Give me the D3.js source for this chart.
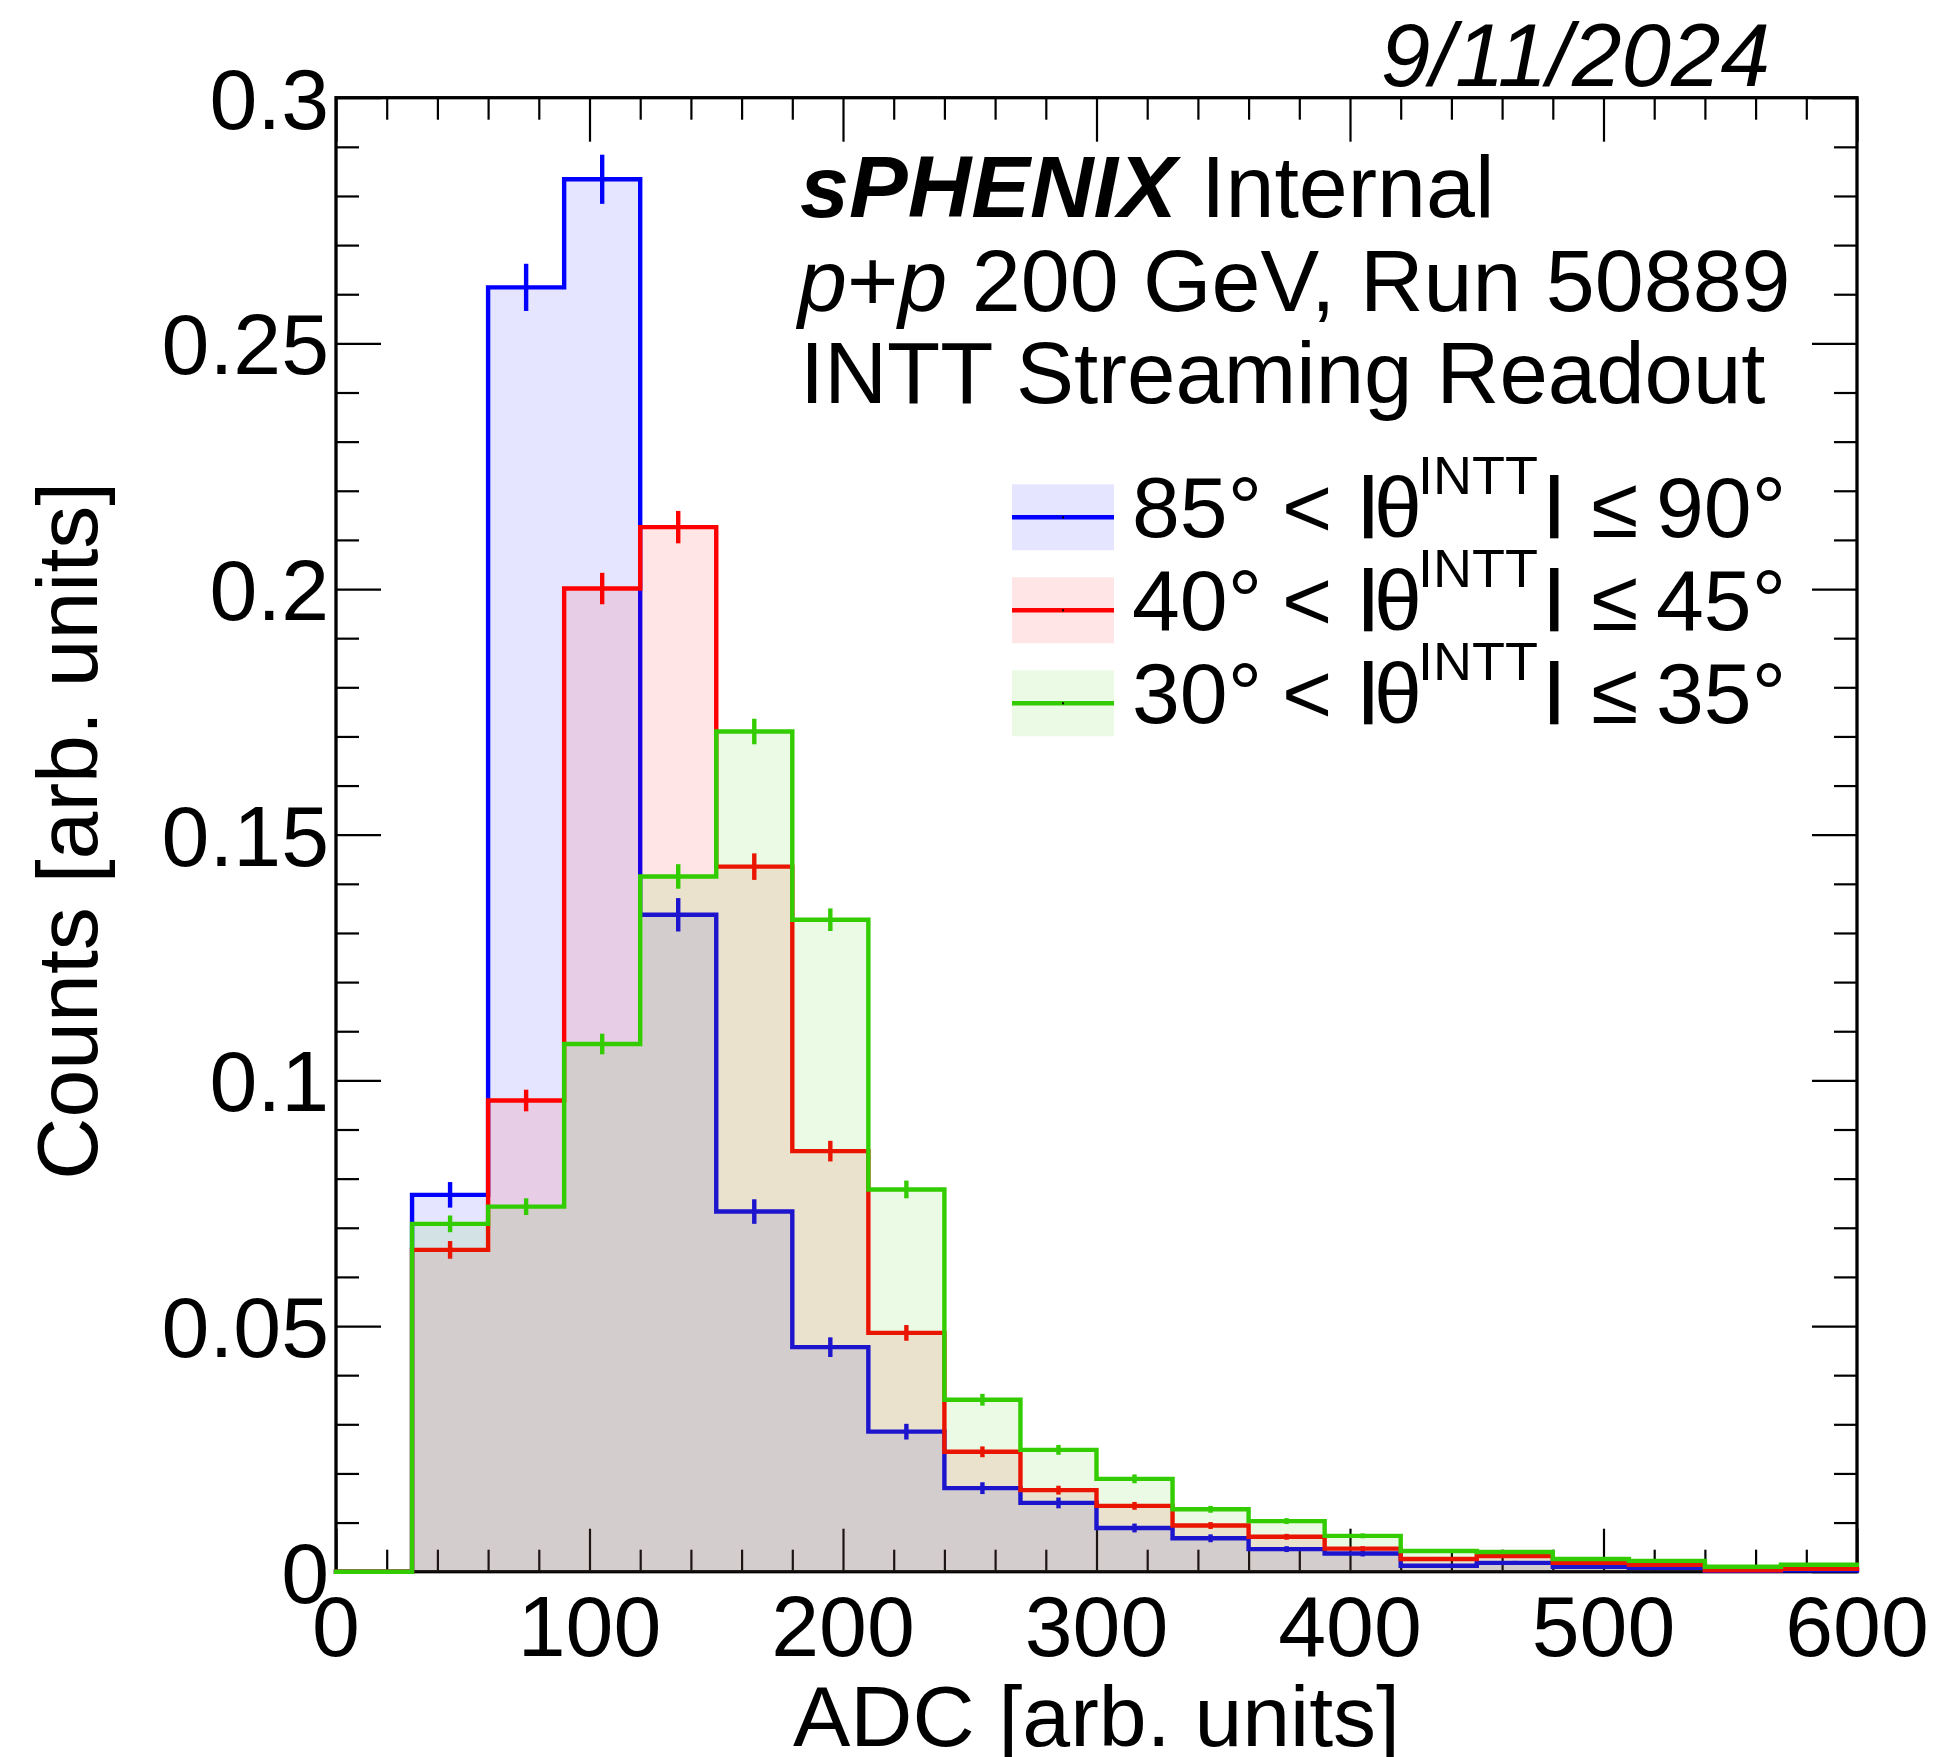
<!DOCTYPE html>
<html>
<head>
<meta charset="utf-8">
<script src="https://cdn.jsdelivr.net/npm/d3@7"></script>
<style>
  html, body { margin: 0; padding: 0; background: #ffffff; }
  svg { display: block; }
  text { font-family: "Liberation Sans", Arial, Helvetica, sans-serif; fill: #000; }
</style>
</head>
<body>
<div id="chart"></div>
<script>
// ---------------- data ----------------
const binEdges = [0, 30, 60, 90, 120, 150, 180, 210, 240, 270, 300, 330, 360, 390, 420, 450, 480, 510, 540, 570, 600];

const blueValues = [0, 0.0767, 0.2614, 0.2834, 0.1337, 0.0733, 0.0457, 0.0285, 0.0170, 0.0140, 0.0089, 0.0068, 0.0046, 0.0037, 0.0012, 0.0018, 0.0010, 0.0008, 0.0002, 0.0003];
const blueErrors = [0, 0.0026, 0.0048, 0.0050, 0.0034, 0.0025, 0.0020, 0.0016, 0.0012, 0.0011, 0.0009, 0.0008, 0.0006, 0.0006, 0.0003, 0.0004, 0.0003, 0.0003, 0.0001, 0.0002];

const redValues = [0, 0.0655, 0.0959, 0.2001, 0.2126, 0.1435, 0.0856, 0.0486, 0.0244, 0.0166, 0.0134, 0.0094, 0.0071, 0.0047, 0.0026, 0.0032, 0.0018, 0.0014, 0.0003, 0.0006];
const redErrors = [0, 0.0018, 0.0022, 0.0032, 0.0033, 0.0027, 0.0021, 0.0016, 0.0011, 0.0009, 0.0008, 0.0007, 0.0006, 0.0005, 0.0004, 0.0004, 0.0003, 0.0003, 0.0001, 0.0002];

const greenValues = [0, 0.0708, 0.0743, 0.1074, 0.1415, 0.1710, 0.1327, 0.0778, 0.0350, 0.0248, 0.0189, 0.0127, 0.0103, 0.0073, 0.0042, 0.0040, 0.0026, 0.0022, 0.0010, 0.0014];
const greenErrors = [0, 0.0017, 0.0017, 0.0021, 0.0025, 0.0026, 0.0023, 0.0018, 0.0012, 0.0010, 0.0009, 0.0007, 0.0006, 0.0005, 0.0004, 0.0004, 0.0003, 0.0003, 0.0002, 0.0002];

const seriesNames = ["85-90", "40-45", "30-35"];
const legendLow = ["85°", "40°", "30°"];
const legendHigh = ["90°", "45°", "35°"];

const xTickValues = [0, 100, 200, 300, 400, 500, 600];
const xTickLabels = ["0", "100", "200", "300", "400", "500", "600"];
const yTickValues = [0, 0.05, 0.1, 0.15, 0.2, 0.25, 0.3];
const yTickLabels = ["0", "0.05", "0.1", "0.15", "0.2", "0.25", "0.3"];
const xMinorStep = 20;
const yMinorStep = 0.01;

const xTitle = "ADC [arb. units]";
const yTitle = "Counts [arb. units]";
const dateText = "9/11/2024";
const headerLines = ["Internal", "200 GeV, Run 50889", "INTT Streaming Readout"];

// ---------------- layout ----------------
const W = 1937, H = 1757;
const L = 336, R = 1857, T = 97.7, B = 1571.7;
const colors = ["#0000ff", "#ff0000", "#33cc00"];
const FS = 86;
const HFS = 88;
const LW = 4.4;

const svg = d3.select("#chart").append("svg").attr("width", W).attr("height", H);
svg.append("rect").attr("width", W).attr("height", H).attr("fill", "#fff");

const x = d3.scaleLinear().domain([0, 600]).range([L, R]);
const y = d3.scaleLinear().domain([0, 0.3]).range([B, T]);

const xMinor = d3.range(0, 600 + 1e-9, xMinorStep).filter(v => xTickValues.indexOf(v) < 0);
const yMinor = d3.range(0, 0.3 + 1e-9, yMinorStep).map(v => +v.toFixed(4)).filter(v => !yTickValues.some(t => Math.abs(t - v) < 1e-6));

const axes = svg.append("g");
function styleAxis(g) {
  g.select(".domain").remove();
  g.selectAll(".tick line").attr("stroke", "#000").attr("stroke-width", 2.2);
  g.selectAll(".tick text").remove();
}
axes.append("g").attr("transform", `translate(0,${B})`).call(d3.axisBottom(x).tickValues(xTickValues).tickSize(-43).tickFormat("")).call(styleAxis);
axes.append("g").attr("transform", `translate(0,${B})`).call(d3.axisBottom(x).tickValues(xMinor).tickSize(-22).tickFormat("")).call(styleAxis);
axes.append("g").attr("transform", `translate(0,${T})`).call(d3.axisTop(x).tickValues(xTickValues).tickSize(-44).tickFormat("")).call(styleAxis);
axes.append("g").attr("transform", `translate(0,${T})`).call(d3.axisTop(x).tickValues(xMinor).tickSize(-22).tickFormat("")).call(styleAxis);
axes.append("g").attr("transform", `translate(${L},0)`).call(d3.axisLeft(y).tickValues(yTickValues).tickSize(-45).tickFormat("")).call(styleAxis);
axes.append("g").attr("transform", `translate(${L},0)`).call(d3.axisLeft(y).tickValues(yMinor).tickSize(-23).tickFormat("")).call(styleAxis);
axes.append("g").attr("transform", `translate(${R},0)`).call(d3.axisRight(y).tickValues(yTickValues).tickSize(-45).tickFormat("")).call(styleAxis);
axes.append("g").attr("transform", `translate(${R},0)`).call(d3.axisRight(y).tickValues(yMinor).tickSize(-23).tickFormat("")).call(styleAxis);

axes.append("rect").attr("x", L).attr("y", T).attr("width", R - L).attr("height", B - T)
  .attr("fill", "none").attr("stroke", "#000").attr("stroke-width", 3.3);

// tick labels
svg.append("g").selectAll("text").data(xTickValues).join("text")
  .attr("x", d => x(d)).attr("y", B + 84.5)
  .attr("text-anchor", "middle").attr("font-size", FS)
  .text((d, i) => xTickLabels[i]);
svg.append("g").selectAll("text").data(yTickValues).join("text")
  .attr("x", L - 7).attr("y", d => y(d) + 31)
  .attr("text-anchor", "end").attr("font-size", FS)
  .text((d, i) => yTickLabels[i]);

// axis titles
svg.append("text").attr("x", (L + R) / 2).attr("y", 1746).attr("text-anchor", "middle")
  .attr("font-size", FS).text(xTitle);
svg.append("text").attr("transform", `translate(97,${(T + B) / 2 - 4}) rotate(-90)`)
  .attr("text-anchor", "middle").attr("font-size", FS).text(yTitle);

// ---------------- histograms ----------------
const allValues = [blueValues, redValues, greenValues];
const allErrors = [blueErrors, redErrors, greenErrors];

const hg = svg.append("g");
allValues.forEach((vals, si) => {
  const pts = vals.map((v, i) => [binEdges[i], v]);
  pts.push([binEdges[binEdges.length - 1], vals[vals.length - 1]]);
  const area = d3.area().curve(d3.curveStepAfter).x(d => x(d[0])).y0(y(0)).y1(d => y(d[1]));
  const line = d3.line().curve(d3.curveStepAfter).x(d => x(d[0])).y(d => y(d[1]));
  const g = hg.append("g").attr("class", "series-" + seriesNames[si]);
  g.append("path").attr("d", area(pts)).attr("fill", colors[si]).attr("fill-opacity", 0.1).attr("stroke", "none");
  g.append("path").attr("d", line(pts)).attr("fill", "none").attr("stroke", colors[si])
    .attr("stroke-width", LW).attr("stroke-linejoin", "miter").attr("stroke-linecap", "square");
  const errs = allErrors[si];
  g.append("g").selectAll("line").data(vals.map((v, i) => ({ v, e: errs[i], c: (binEdges[i] + binEdges[i + 1]) / 2 })).filter(d => d.v > 0))
    .join("line")
    .attr("x1", d => x(d.c)).attr("x2", d => x(d.c))
    .attr("y1", d => y(d.v - d.e)).attr("y2", d => y(d.v + d.e))
    .attr("stroke", colors[si]).attr("stroke-width", LW);
});

// ---------------- texts ----------------
svg.append("text").attr("x", 1770).attr("y", 86).attr("text-anchor", "end")
  .attr("font-size", 89).attr("font-style", "italic").text(dateText);

const hdr = svg.append("g");
const t1 = hdr.append("text").attr("x", 800).attr("y", 217).attr("font-size", HFS);
t1.append("tspan").attr("font-weight", "bold").attr("font-style", "italic").text("sPHENIX");
t1.append("tspan").text(" " + headerLines[0]);
const t2 = hdr.append("text").attr("x", 798).attr("y", 311).attr("font-size", HFS);
t2.append("tspan").attr("font-style", "italic").text("p");
t2.append("tspan").text("+");
t2.append("tspan").attr("font-style", "italic").text("p");
t2.append("tspan").text(" " + headerLines[1]);
hdr.append("text").attr("x", 800).attr("y", 403).attr("font-size", 87).text(headerLines[2]);

// legend
const legY0 = 517.3, legDy = 93;
const leg = svg.append("g");
seriesNames.forEach((s, i) => {
  const cy = legY0 + i * legDy;
  const base = cy + 20;
  leg.append("rect").attr("x", 1012).attr("y", cy - 33).attr("width", 102).attr("height", 66)
    .attr("fill", colors[i]).attr("fill-opacity", 0.1);
  leg.append("line").attr("x1", 1012).attr("x2", 1114).attr("y1", cy).attr("y2", cy)
    .attr("stroke", colors[i]).attr("stroke-width", LW);
  leg.append("rect").attr("x", 1062).attr("y", cy - 1).attr("width", 2).attr("height", 2).attr("fill", "#000");
  const t = leg.append("text").attr("y", base).attr("font-size", FS);
  t.append("tspan").attr("x", 1132).text(legendLow[i]);
  t.append("tspan").attr("x", 1282).text("<");
  t.append("tspan").attr("x", 1359).attr("y", base - 14).attr("font-size", 66).attr("font-weight", "bold").text("|");
  t.append("tspan").attr("x", 1374).attr("y", base).attr("font-size", FS).text("θ");
  t.append("tspan").attr("x", 1418).attr("y", base - 43).attr("font-size", 54).text("INTT");
  t.append("tspan").attr("x", 1545).attr("y", base - 14).attr("font-size", 66).attr("font-weight", "bold").text("|");
  t.append("tspan").attr("x", 1591).attr("y", base).attr("font-size", FS).text("≤");
  t.append("tspan").attr("x", 1656).text(legendHigh[i]);
});
</script>
</body>
</html>
